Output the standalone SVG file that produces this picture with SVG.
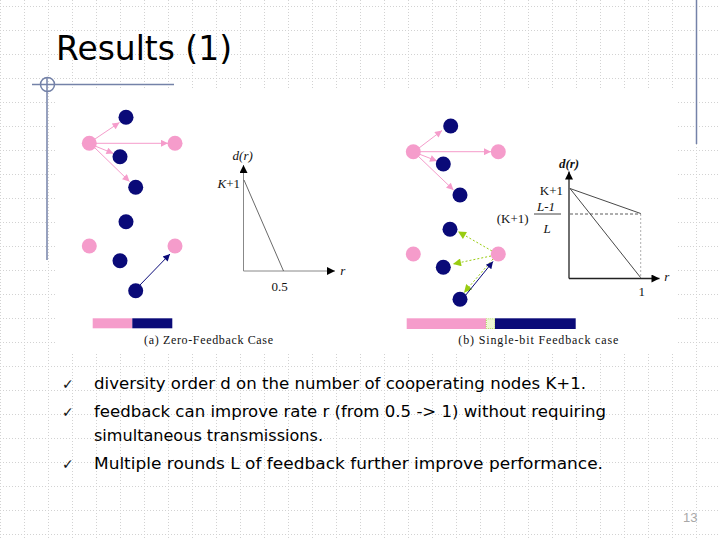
<svg xmlns="http://www.w3.org/2000/svg" width="720" height="540" viewBox="0 0 720 540">
<defs>
<pattern id="grid" x="0" y="6" width="24" height="24" patternUnits="userSpaceOnUse">
<path d="M0 0.5H24M0.5 0V24" stroke="#d2d2d2" stroke-width="1" stroke-dasharray="1 2" fill="none"/>
</pattern>
<marker id="ap" viewBox="0 0 10 10" refX="10" refY="5" markerWidth="9" markerHeight="7" markerUnits="userSpaceOnUse" orient="auto"><path d="M0 0L10 5L0 10Z" fill="#f59ccb"/></marker>
<marker id="an" viewBox="0 0 10 10" refX="10" refY="5" markerWidth="9" markerHeight="7" markerUnits="userSpaceOnUse" orient="auto"><path d="M0 0L10 5L0 10Z" fill="#0a0a78"/></marker>
<marker id="ag" viewBox="0 0 10 10" refX="10" refY="5" markerWidth="10" markerHeight="8" markerUnits="userSpaceOnUse" orient="auto"><path d="M0 0L10 5L0 10Z" fill="#99cc11"/></marker>
<marker id="ak" viewBox="0 0 10 10" refX="10" refY="5" markerWidth="9" markerHeight="8" markerUnits="userSpaceOnUse" orient="auto"><path d="M0 0L10 5L0 10Z" fill="#000"/></marker>
<style>
.pk{fill:#f59ccb}
.nv{fill:#0a0a78}
.pl{stroke:#f59ccb;stroke-width:1;fill:none;marker-end:url(#ap)}
.nl{stroke:#0a0a78;stroke-width:1;fill:none;marker-end:url(#an)}
.gl{stroke:#99cc11;stroke-width:1;stroke-dasharray:2 2;fill:none;marker-end:url(#ag)}
.ax{stroke:#222;stroke-width:1.3;fill:none;marker-end:url(#ak)}
.axa{stroke:#888;stroke-width:1;fill:none;marker-end:url(#ak)}
.cm{font-family:"Liberation Serif",serif;font-size:13px;fill:#111}
.it{font-style:italic}
.bt{font-family:"DejaVu Sans",sans-serif;font-size:15px;fill:#000}
.ck{font-family:"DejaVu Sans",sans-serif;font-size:14px;fill:#111}
</style>
</defs>
<rect width="720" height="540" fill="#fff"/>
<rect width="720" height="540" fill="url(#grid)"/>
<rect x="56" y="89" width="621" height="263" fill="#fff"/>
<g id="decor" stroke="#7482a8" stroke-width="1.5" fill="none">
<line x1="32" y1="84.5" x2="174" y2="84.5"/>
<circle cx="47.5" cy="84.5" r="7"/>
<line x1="47" y1="78" x2="47" y2="260"/>
<line x1="696.5" y1="0" x2="696.5" y2="144"/>
</g>
<text id="title" x="56" y="60" font-family="DejaVu Sans,sans-serif" font-size="34" textLength="176" lengthAdjust="spacingAndGlyphs" fill="#000">Results (1)</text>
<g id="connectors">
<line class="pl" x1="95" y1="139" x2="119.5" y2="122.5"/>
<line class="pl" x1="96" y1="143.3" x2="168" y2="143.3"/>
<line class="pl" x1="95" y1="146" x2="113.5" y2="153.5"/>
<line class="pl" x1="94" y1="147" x2="129.5" y2="181.5"/>
<line class="nl" x1="139" y1="286" x2="170" y2="254"/>
<line class="pl" x1="419" y1="148" x2="442" y2="130.5"/>
<line class="pl" x1="420" y1="151.7" x2="491" y2="151.7"/>
<line class="pl" x1="419" y1="154" x2="437" y2="161"/>
<line class="pl" x1="418" y1="156" x2="453.5" y2="190"/>
<line class="gl" x1="492" y1="251" x2="458" y2="231.5"/>
<line class="gl" x1="491" y1="256" x2="453" y2="264"/>
<line class="gl" x1="493" y1="259" x2="464" y2="292.7"/>
<line class="nl" x1="465" y1="296" x2="493" y2="261.5"/>
<line class="axa" x1="243.5" y1="271" x2="243.5" y2="165"/>
<line class="axa" x1="243.5" y1="271" x2="335" y2="271"/>
<line x1="244" y1="180" x2="283.5" y2="271" stroke="#444" stroke-width="0.8"/>
<line class="ax" x1="569" y1="278.5" x2="569" y2="171.5"/>
<line class="ax" x1="569" y1="278.5" x2="659.5" y2="278.5"/>
<line x1="570" y1="188.5" x2="640.7" y2="213.5" stroke="#333" stroke-width="0.9"/>
<line x1="570" y1="188.5" x2="640.7" y2="277.7" stroke="#333" stroke-width="0.9"/>
<line x1="570" y1="214" x2="640.7" y2="214" stroke="#333" stroke-width="0.8" stroke-dasharray="3 2"/>
<line x1="640.7" y1="214" x2="640.7" y2="278" stroke="#999" stroke-width="0.8" stroke-dasharray="2 2"/>
</g>
<g id="nodes-a">
<g id="a-p1"><circle class="pk" cx="89.3" cy="143.3" r="7.5"/></g>
<g id="a-n1"><circle class="nv" cx="126" cy="117.3" r="7.5"/></g>
<g id="a-p2"><circle class="pk" cx="175" cy="143.3" r="7.5"/></g>
<g id="a-n2"><circle class="nv" cx="120" cy="156.7" r="7.5"/></g>
<g id="a-n3"><circle class="nv" cx="135.7" cy="187.3" r="7.5"/></g>
<g id="a-n4"><circle class="nv" cx="126" cy="221.7" r="7.5"/></g>
<g id="a-p3"><circle class="pk" cx="89.3" cy="246" r="7.5"/></g>
<g id="a-p4"><circle class="pk" cx="175" cy="246" r="7.5"/></g>
<g id="a-n5"><circle class="nv" cx="120" cy="260.7" r="7.5"/></g>
<g id="a-n6"><circle class="nv" cx="135.7" cy="290.7" r="7.5"/></g>
</g>
<g id="nodes-b">
<g id="b-p1"><circle class="pk" cx="413.3" cy="151.7" r="7.5"/></g>
<g id="b-n1"><circle class="nv" cx="450.7" cy="126" r="7.5"/></g>
<g id="b-p2"><circle class="pk" cx="498.3" cy="151.7" r="7.5"/></g>
<g id="b-n2"><circle class="nv" cx="443.3" cy="164" r="7.5"/></g>
<g id="b-n3"><circle class="nv" cx="460" cy="195" r="7.5"/></g>
<g id="b-n4"><circle class="nv" cx="450" cy="229.3" r="7.5"/></g>
<g id="b-p3"><circle class="pk" cx="413.3" cy="254" r="7.5"/></g>
<g id="b-p4"><circle class="pk" cx="498.3" cy="254" r="7.5"/></g>
<g id="b-n5"><circle class="nv" cx="443.3" cy="267.3" r="7.5"/></g>
<g id="b-n6"><circle class="nv" cx="460" cy="299.3" r="7.5"/></g>
</g>
<g id="labels-a">
<text class="cm it" x="242.7" y="160" text-anchor="middle">d(r)</text>
<text class="cm" x="240" y="187.5" text-anchor="end"><tspan class="it">K</tspan>+1</text>
<text class="cm" x="279.5" y="291" text-anchor="middle">0.5</text>
<text class="cm it" x="342.7" y="274.5" text-anchor="middle">r</text>
</g>
<g id="labels-b">
<text class="cm it" x="569" y="167.5" text-anchor="middle" font-weight="bold">d(r)</text>
<text class="cm" x="563" y="195" text-anchor="end">K+1</text>
<text class="cm" x="512.7" y="222.5" text-anchor="middle">(K+1)</text>
<text class="cm it" x="546" y="211" text-anchor="middle">L-1</text>
<line x1="534" y1="214" x2="561" y2="214" stroke="#111" stroke-width="0.8"/>
<text class="cm it" x="547" y="232.5" text-anchor="middle">L</text>
<text class="cm" x="641.7" y="296" text-anchor="middle">1</text>
<text class="cm it" x="666.7" y="280.5" text-anchor="middle">r</text>
</g>
<g id="bar-a">
<rect x="92.7" y="318.3" width="39.6" height="10" class="pk"/>
<rect x="132.3" y="318.3" width="40" height="10" class="nv"/>
<text x="144" y="343.5" font-family="Liberation Serif,serif" font-size="12" textLength="129" fill="#111">(a) Zero-Feedback Case</text>
</g>
<g id="bar-b">
<rect x="406.7" y="318.3" width="79.3" height="10.7" class="pk"/>
<rect x="486.3" y="318.8" width="8.4" height="9.7" fill="#eef7d4" stroke="#9c3" stroke-width="0.8" stroke-dasharray="1 1"/>
<rect x="495" y="318.3" width="80.7" height="10.7" class="nv"/>
<text x="458.3" y="344" font-family="Liberation Serif,serif" font-size="12" textLength="160" fill="#111">(b) Single-bit Feedback case</text>
</g>
<g id="bullets">
<text class="ck" x="62" y="389">✓</text>
<text class="bt" x="94" y="389" textLength="492" lengthAdjust="spacingAndGlyphs">diversity order d on the number of cooperating nodes  K+1.</text>
<text class="ck" x="62" y="417">✓</text>
<text class="bt" x="94" y="417" textLength="512" lengthAdjust="spacingAndGlyphs">feedback can improve rate r (from 0.5 -&gt; 1) without requiring</text>
<text class="bt" x="94" y="441" textLength="229" lengthAdjust="spacingAndGlyphs">simultaneous transmissions.</text>
<text class="ck" x="62" y="469">✓</text>
<text class="bt" x="94" y="469" textLength="509" lengthAdjust="spacingAndGlyphs">Multiple rounds L of feedback further improve performance.</text>
</g>
<text id="page" x="683" y="522" font-family="Liberation Sans,sans-serif" font-size="13" fill="#a8a8a8">13</text>
</svg>
